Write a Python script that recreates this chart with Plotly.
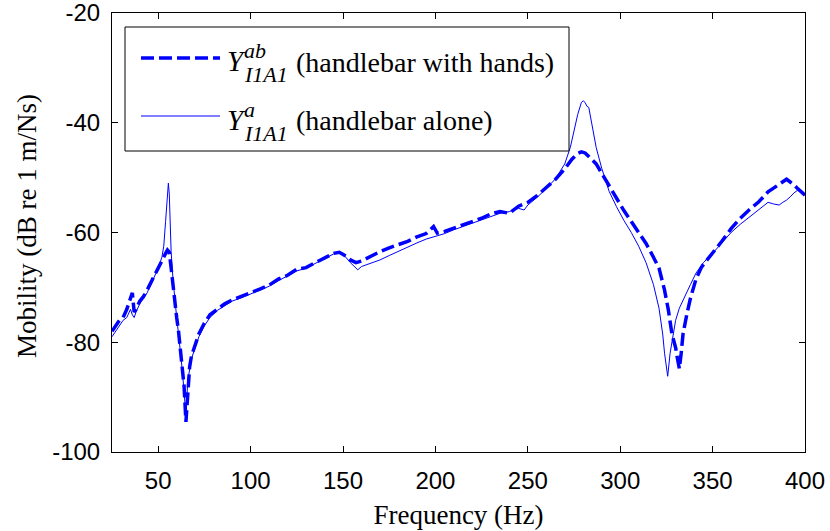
import plotly.graph_objects as go

# ---- data ----
freq_hands = [25, 27, 29, 31, 33, 35, 36, 37, 38, 40, 42, 44, 46, 48, 50, 52, 54, 55, 56, 57,
              58, 59, 60, 61, 62, 63, 64, 65, 66, 67, 68, 70, 72, 75, 78, 82, 86, 90, 95, 100,
              105, 110, 115, 120, 125, 130, 135, 140, 145, 148, 151, 154, 157, 160, 165, 170,
              175, 180, 185, 190, 195, 199, 201, 205, 210, 215, 220, 225, 230, 235, 240, 245,
              250, 255, 260, 265, 270, 274, 277, 279, 281, 284, 287, 290, 294, 298, 302, 306,
              310, 314, 318, 321, 324, 326, 328, 330, 331, 332, 333, 334, 336, 338, 341, 344,
              347, 350, 355, 360, 365, 370, 375, 380, 385, 388, 390, 392, 394, 396, 398, 400]
mob_hands = [-78, -77, -76, -75.5, -74, -72, -71, -74.5, -74, -72.5, -71.7, -70.5, -69, -67.8,
             -66.5, -65, -63.8, -63.2, -63.6, -66.5, -70, -73, -75.5, -78, -81, -84, -88, -94.5,
             -88, -84.5, -82.5, -80.5, -78.5, -76.5, -75, -74, -73, -72.3, -71.7, -71, -70.3,
             -69.6, -68.5, -67.8, -66.7, -66.4, -65.5, -64.6, -63.8, -63.6, -64.2, -65, -65.5,
             -65.2, -64.3, -63.5, -62.8, -62.2, -61.6, -60.8, -60.2, -58.9, -60.1, -59.8, -59.2,
             -58.6, -58, -57.4, -56.6, -56.2, -56.5, -55.2, -54.5, -53.3, -51.8, -50.3, -48.4,
             -46.6, -45.6, -45.3, -45.5, -46.5, -47.5, -49.2, -51.5, -54, -56, -58, -60, -62,
             -64.5, -66.5, -70.5, -74, -78.5, -81, -83, -84.8, -82, -78.5, -75, -72, -68.5,
             -66.3, -65, -63.8, -61.6, -59.3, -57.4, -55.8, -54.4, -52.6, -51.5, -50.8, -50.3,
             -50.8, -51.3, -52, -52.6, -53.2]

freq_alone = [25, 27, 29, 31, 33, 35, 36, 37, 38, 40, 42, 44, 46, 48, 50, 52, 53, 54, 55, 55.5,
              56, 56.5, 57, 58, 59, 60, 61, 62, 63, 64, 65, 66, 67, 68, 70, 72, 75, 78, 82, 86,
              90, 95, 100, 105, 110, 115, 120, 125, 130, 135, 140, 145, 148, 151, 154, 157, 158,
              160, 165, 170, 175, 180, 185, 190, 195, 200, 205, 210, 215, 220, 225, 230, 235,
              240, 245, 248, 250, 255, 260, 265, 270, 273, 275, 277, 279, 280, 281, 282, 283,
              285, 287, 290, 294, 298, 302, 306, 310, 314, 318, 321, 323, 324, 325.7, 327,
              328.5, 330, 332, 334, 336, 338, 341, 345, 350, 355, 360, 365, 370, 375, 380, 383,
              386, 388, 390, 392, 394, 396, 398, 400]
mob_alone = [-79, -78, -77, -76, -75.5, -74, -75, -75.5, -74.5, -73, -72, -71, -69.5, -68,
             -66.5, -64.5, -62.5, -58, -52, -51, -53, -58, -63.5, -68.5, -72.5, -75.5, -78.5,
             -81.5, -85, -89, -93.5, -87, -85, -83, -81, -79, -77, -75.5, -74.2, -73.3, -72.5,
             -71.9, -71.2, -70.5, -69.8, -68.8, -67.9, -67, -66.5, -65.6, -64.8, -63.9, -63.7,
             -64.3, -65.5, -66.5, -66.8, -66.2, -65.6, -65, -64.2, -63.4, -62.6, -61.9, -61.2,
             -60.7, -60.2, -59.5, -58.9, -58.3, -57.6, -57, -56.5, -56.2, -55.6, -55.9, -55,
             -53.6, -52, -50.2, -47.5, -44.5, -41.5, -38.5, -36.3, -36, -36.3, -37, -37.2, -41,
             -44.5, -48.3, -52.5, -55.3, -57.8, -60, -62.5, -65.5, -69.5, -73.8, -78.5, -82,
             -86.2, -82, -78.8, -76, -73.8, -72.3, -71.1, -69.5, -67.4, -65.5, -63.8, -61.8,
             -60, -58.5, -57.2, -55.8, -54.5, -54.8, -55, -54.5, -54.1, -53.5, -52.8, -52.3,
             -52.8, -53.2]

x_ticks = [50, 100, 150, 200, 250, 300, 350, 400]
x_tick_text = ["50", "100", "150", "200", "250", "300", "350", "400"]
y_ticks = [-100, -80, -60, -40, -20]
y_tick_text = ["-100", "-80", "-60", "-40", "-20"]

name_hands = "(handlebar with hands)"
name_alone = "(handlebar alone)"
x_title = "Frequency (Hz)"
y_title = "Mobility (dB re 1 m/Ns)"

BLUE = "#0000ff"
SERIF = "Liberation Serif"
SANS = "Liberation Sans"

W, H = 830, 531
ML, MR, MT, MB = 112, 25, 13, 79
PW, PH = W - ML - MR, H - MT - MB


def px(xp):
    return (xp - ML) / PW


def py(yp):
    return (H - MB - yp) / PH


fig = go.Figure()
fig.add_trace(go.Scatter(x=freq_alone, y=mob_alone, mode="lines",
                         line=dict(color=BLUE, width=1), name=name_alone,
                         showlegend=False))
fig.add_trace(go.Scatter(x=freq_hands, y=mob_hands, mode="lines",
                         line=dict(color=BLUE, width=3.5, dash="13px,5px"),
                         name=name_hands, showlegend=False))

axis_common = dict(showline=True, linecolor="black", linewidth=1, mirror="ticks",
                   ticks="inside", ticklen=6, tickcolor="black", showgrid=False,
                   zeroline=False, ticklabeloverflow="allow", automargin=False,
                   tickfont=dict(family=SANS, size=24, color="black"))

fig.update_xaxes(range=[25, 400], tickvals=x_ticks, ticktext=x_tick_text, ticklabelstandoff=7,
                 title=dict(text=x_title, font=dict(family=SERIF, size=27, color="black"),
                            standoff=12),
                 **axis_common)
fig.update_yaxes(range=[-100, -20], tickvals=y_ticks, ticktext=y_tick_text, ticklabelstandoff=6,
                 **axis_common)

# ---- legend drawn by hand ----
shapes = [
    dict(type="rect", xref="paper", yref="paper", x0=px(125), x1=px(569), y0=py(151), y1=py(27),
         line=dict(color="black", width=1), fillcolor="white", layer="above"),
    dict(type="line", xref="paper", yref="paper", x0=px(141), x1=px(220), y0=py(58), y1=py(58),
         line=dict(color=BLUE, width=3.5, dash="13px,5px"), layer="above"),
    dict(type="line", xref="paper", yref="paper", x0=px(141), x1=px(220), y0=py(116), y1=py(116),
         line=dict(color=BLUE, width=1), layer="above"),
]

annotations = [
    dict(text=y_title, xref="paper", yref="paper", x=px(27), y=py(226), textangle=-90,
         xanchor="center", yanchor="middle", showarrow=False,
         font=dict(family=SERIF, size=27, color="black")),
]


def txt(s, x, y, size):
    annotations.append(dict(text=s, xref="paper", yref="paper", x=px(x), y=py(y),
                            xanchor="left", yanchor="middle", showarrow=False, borderpad=0,
                            font=dict(family=SERIF, size=size, color="black")))


for (sup, label, yc) in [("ab", name_hands, 0), ("a", name_alone, 59)]:
    txt("<i>Y</i>", 226, 61 + yc, 29)
    txt("<i>" + sup + "</i>", 243, 50 + yc, 22)
    txt("<i>I1A1</i>", 243, 75 + yc, 22)
    txt(label, 295, 62 + yc, 28)

fig.update_layout(width=W, height=H, margin=dict(l=ML, r=MR, t=MT, b=MB),
                  paper_bgcolor="white", plot_bgcolor="white",
                  shapes=shapes, annotations=annotations, showlegend=False)

fig.write_html("out.html")
